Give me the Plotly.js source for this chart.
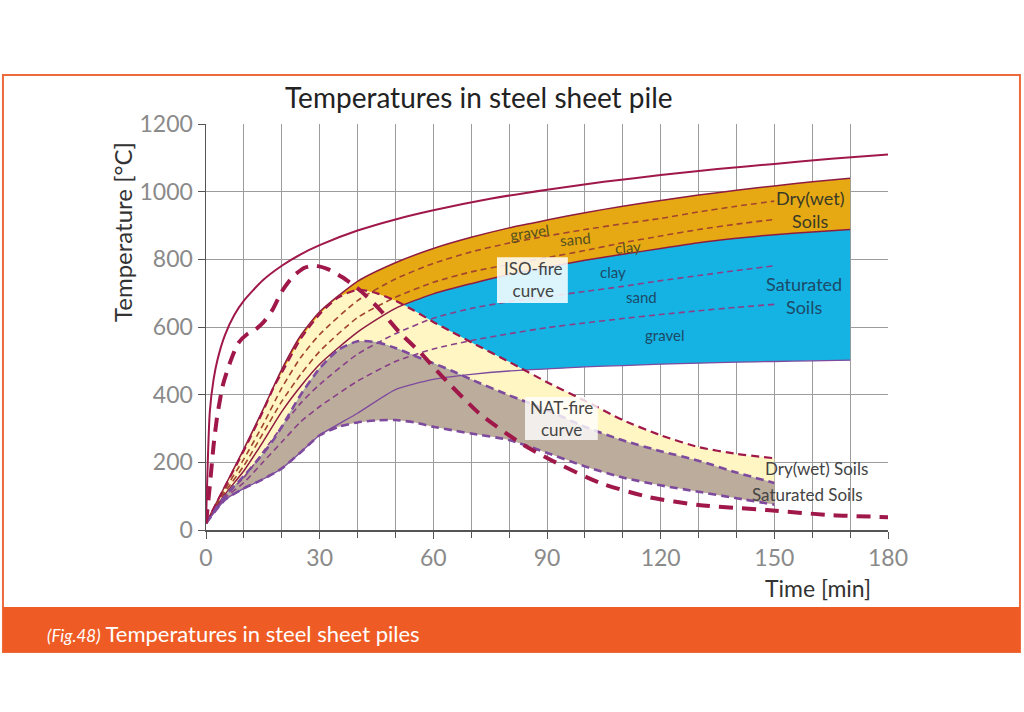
<!DOCTYPE html>
<html>
<head>
<meta charset="utf-8">
<script src="https://cdn.plot.ly/plotly-3.0.1.min.js"></script>
<style>
  html, body { margin: 0; padding: 0; background: #fff; }
  #chart { width: 1024px; height: 712px; }
</style>
</head>
<body>
<div id="chart"></div>
<script>
// ISO-fire curve (gas temperature)
const isoFireTime = [0, 1, 2, 3, 5, 7.5, 10, 15, 20, 25, 30, 40, 50, 60, 75, 90, 105, 120, 135, 150, 165, 180];
const isoFireTemp = [20, 349, 445, 502, 576, 636, 678, 738, 781, 815, 842, 885, 918, 945, 979, 1006, 1029, 1049, 1067, 1082, 1097, 1110];

// NAT-fire curve (natural fire)
const natFireTime = [0, 1, 2, 3, 4.5, 6.5, 8.5, 11, 13, 15, 17.5, 20, 23, 26, 28.5, 32, 36, 41, 46, 51, 56.5, 62.5, 72, 83, 91, 104, 117, 130, 148, 165, 180];
const natFireTemp = [20, 130, 250, 340, 430, 500, 552, 580, 592, 612, 650, 705, 750, 775, 782, 772, 747, 705, 650, 585, 525, 452, 346, 257, 207, 139, 97, 74, 59, 44, 38];

// steel temperature under ISO-fire, soil curves
const isoSoilTime = [0, 5, 10, 15, 20, 25, 30, 40, 50, 60, 70, 80, 90, 100, 110, 120, 130, 140, 150, 160, 170];
const isoDryUpper = [20, 130, 240, 355, 475, 575, 645, 735, 790, 832, 865, 893, 916, 938, 957, 974, 990, 1004, 1017, 1029, 1040];
const isoDryMid1 = [20, 120, 210, 310, 420, 510, 578, 678, 742, 788, 822, 848, 869, 888, 905, 921, 940, 957, 972];
const isoDryMid2 = [20, 112, 190, 285, 380, 460, 528, 628, 688, 732, 763, 785, 805, 826, 849, 869, 888, 904, 918];
const isoBoundary = [20, 105, 175, 260, 350, 425, 490, 585, 655, 698, 728, 755, 777, 797, 815, 832, 849, 862, 873, 881, 888];
const isoSatMid1 = [20, 100, 155, 230, 305, 375, 430, 520, 580, 626, 655, 675, 690, 705, 720, 737, 752, 767, 781];
const isoSatMid2 = [20, 95, 140, 200, 260, 320, 365, 440, 498, 535, 560, 580, 598, 612, 625, 637, 648, 658, 667];
const isoSatLower = [20, 89, 123, 150, 182, 230, 280, 345, 415, 445, 460, 470, 476, 482, 486, 490, 493, 496, 498, 500, 502];

// steel temperature under NAT-fire
const natSoilTime = [0, 5, 10, 15, 18, 20, 25, 30, 35, 40, 45, 50, 55, 60, 65, 70, 80, 90, 100, 110, 120, 130, 140, 150];
const natDryUpper = [20, 128, 235, 350, 425, 465, 565, 638, 688, 710, 700, 678, 648, 615, 585, 555, 497, 437, 382, 325, 280, 245, 225, 212];
const natSatUpper = [20, 100, 160, 225, 270, 305, 400, 478, 533, 558, 555, 538, 515, 493, 470, 445, 398, 355, 305, 265, 233, 205, 170, 139];
const natSatLower = [20, 89, 123, 150, 168, 182, 230, 280, 305, 318, 324, 325, 318, 305, 295, 285, 266, 228, 188, 155, 132, 113, 94, 75];

const xTicks = [0, 30, 60, 90, 120, 150, 180];

const FONT = "Lato, 'Open Sans', sans-serif";
const maroon = "#a0184a";
const brownDash = "#a2452e";
const purple = "#7e4a9e";
const purpleDash = "#8a3f88";

function fillPair(x, lower, upper, color) {
  return [
    { x: x.slice(0, lower.length), y: lower, type: "scatter", mode: "lines",
      line: { width: 0, shape: "spline", smoothing: 0.6 }, hoverinfo: "skip" },
    { x: x.slice(0, upper.length), y: upper, type: "scatter", mode: "lines", fill: "tonexty",
      fillcolor: color, line: { width: 0, shape: "spline", smoothing: 0.6 }, hoverinfo: "skip" }
  ];
}

function curve(x, y, color, width, dash) {
  return { x: x.slice(0, y.length), y: y, type: "scatter", mode: "lines",
    line: { color: color, width: width, dash: dash || "solid", shape: "spline", smoothing: 0.6 } };
}

const traces = [
  ...fillPair(isoSoilTime, isoBoundary, isoDryUpper, "#e6a914"),
  ...fillPair(isoSoilTime, isoSatLower, isoBoundary, "#14b3e3"),
  ...fillPair(natSoilTime, natSatUpper, natDryUpper, "#fff6c4"),
  ...fillPair(natSoilTime, natSatLower, natSatUpper, "#bbac9c"),
  curve(isoSoilTime, isoDryUpper, "#8e1c40", 1.5),
  curve(isoSoilTime, isoDryMid1, brownDash, 1.6, "6px,4px"),
  curve(isoSoilTime, isoDryMid2, brownDash, 1.6, "6px,4px"),
  curve(isoSoilTime, isoBoundary, "#8e1c40", 1.5),
  curve(isoSoilTime, isoSatMid1, purpleDash, 1.6, "6px,4px"),
  curve(isoSoilTime, isoSatMid2, purpleDash, 1.6, "6px,4px"),
  curve(isoSoilTime, isoSatLower, purple, 1.3),
  curve(natSoilTime, natDryUpper, maroon, 2.2, "8px,5px"),
  curve(natSoilTime, natSatUpper, purple, 2.6, "8px,5px"),
  curve(natSoilTime, natSatLower, purple, 2.6, "8px,5px"),
  curve(natFireTime, natFireTemp, maroon, 4, "14px,9px"),
  curve(isoFireTime, isoFireTemp, maroon, 2)
];

const goldText = "#55501f";
const blueText = "#1d4a68";
const greyText = "#444";

function label(x, y, text, color, size, angle) {
  return { x: x, y: y, xref: "x", yref: "y", xanchor: "center", yanchor: "middle",
    text: text, showarrow: false,
    font: { family: FONT, size: size, color: color }, textangle: angle || 0 };
}

function paperText(x, y, text, size, color, extra) {
  return Object.assign({ x: x, y: y, xref: "paper", yref: "paper", xanchor: "center", yanchor: "middle",
    text: text, showarrow: false, font: { family: FONT, size: size, color: color } }, extra || {});
}

const annotations = [
  label(85.5, 881, "gravel", goldText, 15, -8),
  label(97.4, 860, "sand", goldText, 15, -5),
  label(111.3, 837, "clay", goldText, 15, -5),
  label(107.4, 763, "clay", blueText, 15, 0),
  label(115, 689, "sand", blueText, 15, 0),
  label(121.1, 576, "gravel", blueText, 15, 0),
  label(159.6, 948, "Dry(wet)<br>Soils", "#3a3a26", 18),
  label(157.8, 694, "Saturated<br>Soils", blueText, 18),
  label(161, 183, "Dry(wet) Soils", greyText, 17),
  label(158.8, 106, "Saturated Soils", greyText, 17),
  label(86.2, 739, "ISO-fire<br>curve", greyText, 17),
  label(93.7, 331, "NAT-fire<br>curve", greyText, 17),
  paperText(0.40, 1.066, "Temperatures in steel sheet pile", 28, "#222"),
  paperText(-0.1217, 0.734, "Temperature [°C]", 24, "#333", { textangle: -90 }),
  paperText(0.897, -0.1429, "Time [min]", 23, "#333"),
  paperText(-0.236, -0.256, "<i style='font-size:17px'>(Fig.48)</i> Temperatures in steel sheet piles", 22, "#fff",
    { xanchor: "left", font: { family: "'Liberation Sans Narrow', " + FONT, size: 22, color: "#fff" } })
];

const shapes = [
  // orange frame and caption bar
  { type: "rect", xref: "paper", yref: "paper", x0: -0.2977, x1: 1.1935, y0: -0.3005, y1: 1.1207,
    line: { color: "#ec6a3c", width: 2 }, fillcolor: "rgba(0,0,0,0)", layer: "below" },
  { type: "rect", xref: "paper", yref: "paper", x0: -0.2977, x1: 1.1935, y0: -0.3005, y1: -0.1897,
    line: { width: 0 }, fillcolor: "#ef5b24", layer: "below" },
  // label boxes
  { type: "rect", xref: "x", yref: "y", x0: 76.8, x1: 95.5, y0: 671, y1: 806,
    line: { width: 0 }, fillcolor: "rgba(255,255,255,0.85)", layer: "above" },
  { type: "rect", xref: "x", yref: "y", x0: 84.2, x1: 103.4, y0: 266, y1: 393,
    line: { width: 0 }, fillcolor: "rgba(255,255,255,0.8)", layer: "above" }
];

const layout = {
  width: 1024, height: 712,
  margin: { l: 206, r: 136, t: 124, b: 182 },
  paper_bgcolor: "#fff", plot_bgcolor: "rgba(0,0,0,0)",
  showlegend: false,
  font: { family: FONT },
  xaxis: {
    range: [0, 180], tickvals: xTicks, ticks: "outside", ticklen: 7, tickcolor: "#555",
    showgrid: true, gridcolor: "#9c9c9c", gridwidth: 1,
    minor: { dtick: 10, tick0: 0, ticks: "outside", ticklen: 6, tickcolor: "#555", showgrid: true, gridcolor: "#9c9c9c" },
    showline: true, linecolor: "#555", linewidth: 1.5, zeroline: false,
    tickfont: { family: FONT, size: 23, color: "#8a8a8a" }
  },
  yaxis: {
    range: [0, 1200], dtick: 200, ticks: "outside", ticklen: 7, tickcolor: "#555",
    showgrid: true, gridcolor: "#9c9c9c", gridwidth: 1,
    showline: true, linecolor: "#555", linewidth: 1.5, zeroline: false,
    tickfont: { family: FONT, size: 23, color: "#8a8a8a" }
  },
  annotations: annotations,
  shapes: shapes
};

Plotly.newPlot("chart", traces, layout, { staticPlot: true });
</script>
</body>
</html>
